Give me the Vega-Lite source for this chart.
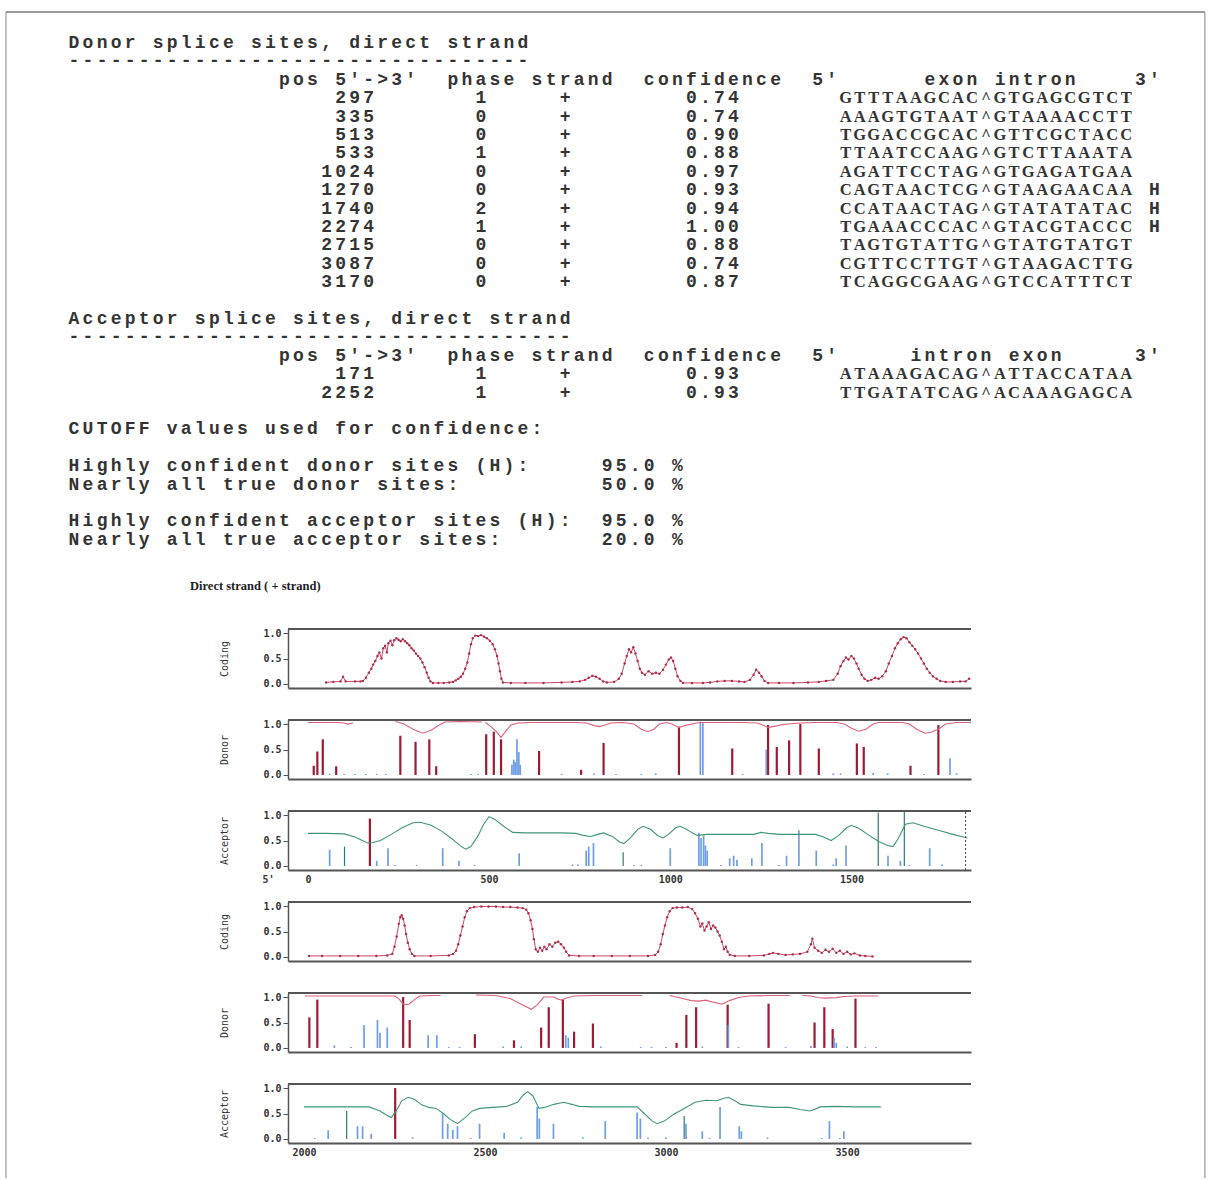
{
"$schema": "https://vega.github.io/schema/vega-lite/v6.json",
"background": "white",
"padding": {"left": 5, "top": 0, "right": 0, "bottom": 0},
"bounds": "flush",
"spacing": 32,
"config": {
  "view": {"stroke": null},
  "axis": {"grid": false, "domainColor": "#555", "tickColor": "#555", "labelFont": "DejaVu Sans Mono", "labelFontSize": 10, "labelFontWeight": "bold", "labelColor": "#333", "titleFont": "DejaVu Sans Mono", "titleFontSize": 10, "titleFontWeight": "normal", "titleColor": "#333"},
  "axisY": {"values": [0, 0.5, 1], "format": ".1f", "tickSize": 5, "labelPadding": 2, "titlePadding": 33, "domainWidth": 1.5},
  "axisX": {"domainWidth": 2, "ticks": false, "labelPadding": 4}
},
"datasets": {
  "report": [
    {"l":0,"c":0,"t":"D"},{"l":0,"c":1,"t":"o"},{"l":0,"c":2,"t":"n"},{"l":0,"c":3,"t":"o"},{"l":0,"c":4,"t":"r"},{"l":0,"c":6,"t":"s"},{"l":0,"c":7,"t":"p"},{"l":0,"c":8,"t":"l"},{"l":0,"c":9,"t":"i"},{"l":0,"c":10,"t":"c"},{"l":0,"c":11,"t":"e"},{"l":0,"c":13,"t":"s"},{"l":0,"c":14,"t":"i"},{"l":0,"c":15,"t":"t"},{"l":0,"c":16,"t":"e"},{"l":0,"c":17,"t":"s"},{"l":0,"c":18,"t":","},{"l":0,"c":20,"t":"d"},{"l":0,"c":21,"t":"i"},{"l":0,"c":22,"t":"r"},{"l":0,"c":23,"t":"e"},{"l":0,"c":24,"t":"c"},{"l":0,"c":25,"t":"t"},{"l":0,"c":27,"t":"s"},{"l":0,"c":28,"t":"t"},{"l":0,"c":29,"t":"r"},{"l":0,"c":30,"t":"a"},{"l":0,"c":31,"t":"n"},{"l":0,"c":32,"t":"d"},
    {"l":1,"c":0,"t":"-"},{"l":1,"c":1,"t":"-"},{"l":1,"c":2,"t":"-"},{"l":1,"c":3,"t":"-"},{"l":1,"c":4,"t":"-"},{"l":1,"c":5,"t":"-"},{"l":1,"c":6,"t":"-"},{"l":1,"c":7,"t":"-"},{"l":1,"c":8,"t":"-"},{"l":1,"c":9,"t":"-"},{"l":1,"c":10,"t":"-"},{"l":1,"c":11,"t":"-"},{"l":1,"c":12,"t":"-"},{"l":1,"c":13,"t":"-"},{"l":1,"c":14,"t":"-"},{"l":1,"c":15,"t":"-"},{"l":1,"c":16,"t":"-"},{"l":1,"c":17,"t":"-"},{"l":1,"c":18,"t":"-"},{"l":1,"c":19,"t":"-"},{"l":1,"c":20,"t":"-"},{"l":1,"c":21,"t":"-"},{"l":1,"c":22,"t":"-"},{"l":1,"c":23,"t":"-"},{"l":1,"c":24,"t":"-"},{"l":1,"c":25,"t":"-"},{"l":1,"c":26,"t":"-"},{"l":1,"c":27,"t":"-"},{"l":1,"c":28,"t":"-"},{"l":1,"c":29,"t":"-"},{"l":1,"c":30,"t":"-"},{"l":1,"c":31,"t":"-"},{"l":1,"c":32,"t":"-"},
    {"l":2,"c":15,"t":"p"},{"l":2,"c":16,"t":"o"},{"l":2,"c":17,"t":"s"},{"l":2,"c":19,"t":"5"},{"l":2,"c":20,"t":"'"},{"l":2,"c":21,"t":"-"},{"l":2,"c":22,"t":">"},{"l":2,"c":23,"t":"3"},{"l":2,"c":24,"t":"'"},{"l":2,"c":27,"t":"p"},{"l":2,"c":28,"t":"h"},{"l":2,"c":29,"t":"a"},{"l":2,"c":30,"t":"s"},{"l":2,"c":31,"t":"e"},{"l":2,"c":33,"t":"s"},{"l":2,"c":34,"t":"t"},{"l":2,"c":35,"t":"r"},{"l":2,"c":36,"t":"a"},{"l":2,"c":37,"t":"n"},{"l":2,"c":38,"t":"d"},{"l":2,"c":41,"t":"c"},{"l":2,"c":42,"t":"o"},{"l":2,"c":43,"t":"n"},{"l":2,"c":44,"t":"f"},{"l":2,"c":45,"t":"i"},{"l":2,"c":46,"t":"d"},{"l":2,"c":47,"t":"e"},{"l":2,"c":48,"t":"n"},{"l":2,"c":49,"t":"c"},{"l":2,"c":50,"t":"e"},{"l":2,"c":53,"t":"5"},{"l":2,"c":54,"t":"'"},{"l":2,"c":61,"t":"e"},{"l":2,"c":62,"t":"x"},{"l":2,"c":63,"t":"o"},{"l":2,"c":64,"t":"n"},{"l":2,"c":66,"t":"i"},{"l":2,"c":67,"t":"n"},{"l":2,"c":68,"t":"t"},{"l":2,"c":69,"t":"r"},{"l":2,"c":70,"t":"o"},{"l":2,"c":71,"t":"n"},{"l":2,"c":76,"t":"3"},{"l":2,"c":77,"t":"'"},
    {"l":3,"c":19,"t":"2"},{"l":3,"c":20,"t":"9"},{"l":3,"c":21,"t":"7"},{"l":3,"c":29,"t":"1"},{"l":3,"c":35,"t":"+"},{"l":3,"c":44,"t":"0"},{"l":3,"c":45,"t":"."},{"l":3,"c":46,"t":"7"},{"l":3,"c":47,"t":"4"},
    {"l":4,"c":19,"t":"3"},{"l":4,"c":20,"t":"3"},{"l":4,"c":21,"t":"5"},{"l":4,"c":29,"t":"0"},{"l":4,"c":35,"t":"+"},{"l":4,"c":44,"t":"0"},{"l":4,"c":45,"t":"."},{"l":4,"c":46,"t":"7"},{"l":4,"c":47,"t":"4"},
    {"l":5,"c":19,"t":"5"},{"l":5,"c":20,"t":"1"},{"l":5,"c":21,"t":"3"},{"l":5,"c":29,"t":"0"},{"l":5,"c":35,"t":"+"},{"l":5,"c":44,"t":"0"},{"l":5,"c":45,"t":"."},{"l":5,"c":46,"t":"9"},{"l":5,"c":47,"t":"0"},
    {"l":6,"c":19,"t":"5"},{"l":6,"c":20,"t":"3"},{"l":6,"c":21,"t":"3"},{"l":6,"c":29,"t":"1"},{"l":6,"c":35,"t":"+"},{"l":6,"c":44,"t":"0"},{"l":6,"c":45,"t":"."},{"l":6,"c":46,"t":"8"},{"l":6,"c":47,"t":"8"},
    {"l":7,"c":18,"t":"1"},{"l":7,"c":19,"t":"0"},{"l":7,"c":20,"t":"2"},{"l":7,"c":21,"t":"4"},{"l":7,"c":29,"t":"0"},{"l":7,"c":35,"t":"+"},{"l":7,"c":44,"t":"0"},{"l":7,"c":45,"t":"."},{"l":7,"c":46,"t":"9"},{"l":7,"c":47,"t":"7"},
    {"l":8,"c":18,"t":"1"},{"l":8,"c":19,"t":"2"},{"l":8,"c":20,"t":"7"},{"l":8,"c":21,"t":"0"},{"l":8,"c":29,"t":"0"},{"l":8,"c":35,"t":"+"},{"l":8,"c":44,"t":"0"},{"l":8,"c":45,"t":"."},{"l":8,"c":46,"t":"9"},{"l":8,"c":47,"t":"3"},{"l":8,"c":77,"t":"H"},
    {"l":9,"c":18,"t":"1"},{"l":9,"c":19,"t":"7"},{"l":9,"c":20,"t":"4"},{"l":9,"c":21,"t":"0"},{"l":9,"c":29,"t":"2"},{"l":9,"c":35,"t":"+"},{"l":9,"c":44,"t":"0"},{"l":9,"c":45,"t":"."},{"l":9,"c":46,"t":"9"},{"l":9,"c":47,"t":"4"},{"l":9,"c":77,"t":"H"},
    {"l":10,"c":18,"t":"2"},{"l":10,"c":19,"t":"2"},{"l":10,"c":20,"t":"7"},{"l":10,"c":21,"t":"4"},{"l":10,"c":29,"t":"1"},{"l":10,"c":35,"t":"+"},{"l":10,"c":44,"t":"1"},{"l":10,"c":45,"t":"."},{"l":10,"c":46,"t":"0"},{"l":10,"c":47,"t":"0"},{"l":10,"c":77,"t":"H"},
    {"l":11,"c":18,"t":"2"},{"l":11,"c":19,"t":"7"},{"l":11,"c":20,"t":"1"},{"l":11,"c":21,"t":"5"},{"l":11,"c":29,"t":"0"},{"l":11,"c":35,"t":"+"},{"l":11,"c":44,"t":"0"},{"l":11,"c":45,"t":"."},{"l":11,"c":46,"t":"8"},{"l":11,"c":47,"t":"8"},
    {"l":12,"c":18,"t":"3"},{"l":12,"c":19,"t":"0"},{"l":12,"c":20,"t":"8"},{"l":12,"c":21,"t":"7"},{"l":12,"c":29,"t":"0"},{"l":12,"c":35,"t":"+"},{"l":12,"c":44,"t":"0"},{"l":12,"c":45,"t":"."},{"l":12,"c":46,"t":"7"},{"l":12,"c":47,"t":"4"},
    {"l":13,"c":18,"t":"3"},{"l":13,"c":19,"t":"1"},{"l":13,"c":20,"t":"7"},{"l":13,"c":21,"t":"0"},{"l":13,"c":29,"t":"0"},{"l":13,"c":35,"t":"+"},{"l":13,"c":44,"t":"0"},{"l":13,"c":45,"t":"."},{"l":13,"c":46,"t":"8"},{"l":13,"c":47,"t":"7"},
    {"l":15,"c":0,"t":"A"},{"l":15,"c":1,"t":"c"},{"l":15,"c":2,"t":"c"},{"l":15,"c":3,"t":"e"},{"l":15,"c":4,"t":"p"},{"l":15,"c":5,"t":"t"},{"l":15,"c":6,"t":"o"},{"l":15,"c":7,"t":"r"},{"l":15,"c":9,"t":"s"},{"l":15,"c":10,"t":"p"},{"l":15,"c":11,"t":"l"},{"l":15,"c":12,"t":"i"},{"l":15,"c":13,"t":"c"},{"l":15,"c":14,"t":"e"},{"l":15,"c":16,"t":"s"},{"l":15,"c":17,"t":"i"},{"l":15,"c":18,"t":"t"},{"l":15,"c":19,"t":"e"},{"l":15,"c":20,"t":"s"},{"l":15,"c":21,"t":","},{"l":15,"c":23,"t":"d"},{"l":15,"c":24,"t":"i"},{"l":15,"c":25,"t":"r"},{"l":15,"c":26,"t":"e"},{"l":15,"c":27,"t":"c"},{"l":15,"c":28,"t":"t"},{"l":15,"c":30,"t":"s"},{"l":15,"c":31,"t":"t"},{"l":15,"c":32,"t":"r"},{"l":15,"c":33,"t":"a"},{"l":15,"c":34,"t":"n"},{"l":15,"c":35,"t":"d"},
    {"l":16,"c":0,"t":"-"},{"l":16,"c":1,"t":"-"},{"l":16,"c":2,"t":"-"},{"l":16,"c":3,"t":"-"},{"l":16,"c":4,"t":"-"},{"l":16,"c":5,"t":"-"},{"l":16,"c":6,"t":"-"},{"l":16,"c":7,"t":"-"},{"l":16,"c":8,"t":"-"},{"l":16,"c":9,"t":"-"},{"l":16,"c":10,"t":"-"},{"l":16,"c":11,"t":"-"},{"l":16,"c":12,"t":"-"},{"l":16,"c":13,"t":"-"},{"l":16,"c":14,"t":"-"},{"l":16,"c":15,"t":"-"},{"l":16,"c":16,"t":"-"},{"l":16,"c":17,"t":"-"},{"l":16,"c":18,"t":"-"},{"l":16,"c":19,"t":"-"},{"l":16,"c":20,"t":"-"},{"l":16,"c":21,"t":"-"},{"l":16,"c":22,"t":"-"},{"l":16,"c":23,"t":"-"},{"l":16,"c":24,"t":"-"},{"l":16,"c":25,"t":"-"},{"l":16,"c":26,"t":"-"},{"l":16,"c":27,"t":"-"},{"l":16,"c":28,"t":"-"},{"l":16,"c":29,"t":"-"},{"l":16,"c":30,"t":"-"},{"l":16,"c":31,"t":"-"},{"l":16,"c":32,"t":"-"},{"l":16,"c":33,"t":"-"},{"l":16,"c":34,"t":"-"},{"l":16,"c":35,"t":"-"},
    {"l":17,"c":15,"t":"p"},{"l":17,"c":16,"t":"o"},{"l":17,"c":17,"t":"s"},{"l":17,"c":19,"t":"5"},{"l":17,"c":20,"t":"'"},{"l":17,"c":21,"t":"-"},{"l":17,"c":22,"t":">"},{"l":17,"c":23,"t":"3"},{"l":17,"c":24,"t":"'"},{"l":17,"c":27,"t":"p"},{"l":17,"c":28,"t":"h"},{"l":17,"c":29,"t":"a"},{"l":17,"c":30,"t":"s"},{"l":17,"c":31,"t":"e"},{"l":17,"c":33,"t":"s"},{"l":17,"c":34,"t":"t"},{"l":17,"c":35,"t":"r"},{"l":17,"c":36,"t":"a"},{"l":17,"c":37,"t":"n"},{"l":17,"c":38,"t":"d"},{"l":17,"c":41,"t":"c"},{"l":17,"c":42,"t":"o"},{"l":17,"c":43,"t":"n"},{"l":17,"c":44,"t":"f"},{"l":17,"c":45,"t":"i"},{"l":17,"c":46,"t":"d"},{"l":17,"c":47,"t":"e"},{"l":17,"c":48,"t":"n"},{"l":17,"c":49,"t":"c"},{"l":17,"c":50,"t":"e"},{"l":17,"c":53,"t":"5"},{"l":17,"c":54,"t":"'"},{"l":17,"c":60,"t":"i"},{"l":17,"c":61,"t":"n"},{"l":17,"c":62,"t":"t"},{"l":17,"c":63,"t":"r"},{"l":17,"c":64,"t":"o"},{"l":17,"c":65,"t":"n"},{"l":17,"c":67,"t":"e"},{"l":17,"c":68,"t":"x"},{"l":17,"c":69,"t":"o"},{"l":17,"c":70,"t":"n"},{"l":17,"c":76,"t":"3"},{"l":17,"c":77,"t":"'"},
    {"l":18,"c":19,"t":"1"},{"l":18,"c":20,"t":"7"},{"l":18,"c":21,"t":"1"},{"l":18,"c":29,"t":"1"},{"l":18,"c":35,"t":"+"},{"l":18,"c":44,"t":"0"},{"l":18,"c":45,"t":"."},{"l":18,"c":46,"t":"9"},{"l":18,"c":47,"t":"3"},
    {"l":19,"c":18,"t":"2"},{"l":19,"c":19,"t":"2"},{"l":19,"c":20,"t":"5"},{"l":19,"c":21,"t":"2"},{"l":19,"c":29,"t":"1"},{"l":19,"c":35,"t":"+"},{"l":19,"c":44,"t":"0"},{"l":19,"c":45,"t":"."},{"l":19,"c":46,"t":"9"},{"l":19,"c":47,"t":"3"},
    {"l":21,"c":0,"t":"C"},{"l":21,"c":1,"t":"U"},{"l":21,"c":2,"t":"T"},{"l":21,"c":3,"t":"O"},{"l":21,"c":4,"t":"F"},{"l":21,"c":5,"t":"F"},{"l":21,"c":7,"t":"v"},{"l":21,"c":8,"t":"a"},{"l":21,"c":9,"t":"l"},{"l":21,"c":10,"t":"u"},{"l":21,"c":11,"t":"e"},{"l":21,"c":12,"t":"s"},{"l":21,"c":14,"t":"u"},{"l":21,"c":15,"t":"s"},{"l":21,"c":16,"t":"e"},{"l":21,"c":17,"t":"d"},{"l":21,"c":19,"t":"f"},{"l":21,"c":20,"t":"o"},{"l":21,"c":21,"t":"r"},{"l":21,"c":23,"t":"c"},{"l":21,"c":24,"t":"o"},{"l":21,"c":25,"t":"n"},{"l":21,"c":26,"t":"f"},{"l":21,"c":27,"t":"i"},{"l":21,"c":28,"t":"d"},{"l":21,"c":29,"t":"e"},{"l":21,"c":30,"t":"n"},{"l":21,"c":31,"t":"c"},{"l":21,"c":32,"t":"e"},{"l":21,"c":33,"t":":"},
    {"l":23,"c":0,"t":"H"},{"l":23,"c":1,"t":"i"},{"l":23,"c":2,"t":"g"},{"l":23,"c":3,"t":"h"},{"l":23,"c":4,"t":"l"},{"l":23,"c":5,"t":"y"},{"l":23,"c":7,"t":"c"},{"l":23,"c":8,"t":"o"},{"l":23,"c":9,"t":"n"},{"l":23,"c":10,"t":"f"},{"l":23,"c":11,"t":"i"},{"l":23,"c":12,"t":"d"},{"l":23,"c":13,"t":"e"},{"l":23,"c":14,"t":"n"},{"l":23,"c":15,"t":"t"},{"l":23,"c":17,"t":"d"},{"l":23,"c":18,"t":"o"},{"l":23,"c":19,"t":"n"},{"l":23,"c":20,"t":"o"},{"l":23,"c":21,"t":"r"},{"l":23,"c":23,"t":"s"},{"l":23,"c":24,"t":"i"},{"l":23,"c":25,"t":"t"},{"l":23,"c":26,"t":"e"},{"l":23,"c":27,"t":"s"},{"l":23,"c":29,"t":"("},{"l":23,"c":30,"t":"H"},{"l":23,"c":31,"t":")"},{"l":23,"c":32,"t":":"},{"l":23,"c":38,"t":"9"},{"l":23,"c":39,"t":"5"},{"l":23,"c":40,"t":"."},{"l":23,"c":41,"t":"0"},{"l":23,"c":43,"t":"%"},
    {"l":24,"c":0,"t":"N"},{"l":24,"c":1,"t":"e"},{"l":24,"c":2,"t":"a"},{"l":24,"c":3,"t":"r"},{"l":24,"c":4,"t":"l"},{"l":24,"c":5,"t":"y"},{"l":24,"c":7,"t":"a"},{"l":24,"c":8,"t":"l"},{"l":24,"c":9,"t":"l"},{"l":24,"c":11,"t":"t"},{"l":24,"c":12,"t":"r"},{"l":24,"c":13,"t":"u"},{"l":24,"c":14,"t":"e"},{"l":24,"c":16,"t":"d"},{"l":24,"c":17,"t":"o"},{"l":24,"c":18,"t":"n"},{"l":24,"c":19,"t":"o"},{"l":24,"c":20,"t":"r"},{"l":24,"c":22,"t":"s"},{"l":24,"c":23,"t":"i"},{"l":24,"c":24,"t":"t"},{"l":24,"c":25,"t":"e"},{"l":24,"c":26,"t":"s"},{"l":24,"c":27,"t":":"},{"l":24,"c":38,"t":"5"},{"l":24,"c":39,"t":"0"},{"l":24,"c":40,"t":"."},{"l":24,"c":41,"t":"0"},{"l":24,"c":43,"t":"%"},
    {"l":26,"c":0,"t":"H"},{"l":26,"c":1,"t":"i"},{"l":26,"c":2,"t":"g"},{"l":26,"c":3,"t":"h"},{"l":26,"c":4,"t":"l"},{"l":26,"c":5,"t":"y"},{"l":26,"c":7,"t":"c"},{"l":26,"c":8,"t":"o"},{"l":26,"c":9,"t":"n"},{"l":26,"c":10,"t":"f"},{"l":26,"c":11,"t":"i"},{"l":26,"c":12,"t":"d"},{"l":26,"c":13,"t":"e"},{"l":26,"c":14,"t":"n"},{"l":26,"c":15,"t":"t"},{"l":26,"c":17,"t":"a"},{"l":26,"c":18,"t":"c"},{"l":26,"c":19,"t":"c"},{"l":26,"c":20,"t":"e"},{"l":26,"c":21,"t":"p"},{"l":26,"c":22,"t":"t"},{"l":26,"c":23,"t":"o"},{"l":26,"c":24,"t":"r"},{"l":26,"c":26,"t":"s"},{"l":26,"c":27,"t":"i"},{"l":26,"c":28,"t":"t"},{"l":26,"c":29,"t":"e"},{"l":26,"c":30,"t":"s"},{"l":26,"c":32,"t":"("},{"l":26,"c":33,"t":"H"},{"l":26,"c":34,"t":")"},{"l":26,"c":35,"t":":"},{"l":26,"c":38,"t":"9"},{"l":26,"c":39,"t":"5"},{"l":26,"c":40,"t":"."},{"l":26,"c":41,"t":"0"},{"l":26,"c":43,"t":"%"},
    {"l":27,"c":0,"t":"N"},{"l":27,"c":1,"t":"e"},{"l":27,"c":2,"t":"a"},{"l":27,"c":3,"t":"r"},{"l":27,"c":4,"t":"l"},{"l":27,"c":5,"t":"y"},{"l":27,"c":7,"t":"a"},{"l":27,"c":8,"t":"l"},{"l":27,"c":9,"t":"l"},{"l":27,"c":11,"t":"t"},{"l":27,"c":12,"t":"r"},{"l":27,"c":13,"t":"u"},{"l":27,"c":14,"t":"e"},{"l":27,"c":16,"t":"a"},{"l":27,"c":17,"t":"c"},{"l":27,"c":18,"t":"c"},{"l":27,"c":19,"t":"e"},{"l":27,"c":20,"t":"p"},{"l":27,"c":21,"t":"t"},{"l":27,"c":22,"t":"o"},{"l":27,"c":23,"t":"r"},{"l":27,"c":25,"t":"s"},{"l":27,"c":26,"t":"i"},{"l":27,"c":27,"t":"t"},{"l":27,"c":28,"t":"e"},{"l":27,"c":29,"t":"s"},{"l":27,"c":30,"t":":"},{"l":27,"c":38,"t":"2"},{"l":27,"c":39,"t":"0"},{"l":27,"c":40,"t":"."},{"l":27,"c":41,"t":"0"},{"l":27,"c":43,"t":"%"}
  ],
  "seqs": [
    {"l":3,"c":55,"t":"G"},{"l":3,"c":56,"t":"T"},{"l":3,"c":57,"t":"T"},{"l":3,"c":58,"t":"T"},{"l":3,"c":59,"t":"A"},{"l":3,"c":60,"t":"A"},{"l":3,"c":61,"t":"G"},{"l":3,"c":62,"t":"C"},{"l":3,"c":63,"t":"A"},{"l":3,"c":64,"t":"C"},{"l":3,"c":65,"t":"^"},{"l":3,"c":66,"t":"G"},{"l":3,"c":67,"t":"T"},{"l":3,"c":68,"t":"G"},{"l":3,"c":69,"t":"A"},{"l":3,"c":70,"t":"G"},{"l":3,"c":71,"t":"C"},{"l":3,"c":72,"t":"G"},{"l":3,"c":73,"t":"T"},{"l":3,"c":74,"t":"C"},{"l":3,"c":75,"t":"T"},
    {"l":4,"c":55,"t":"A"},{"l":4,"c":56,"t":"A"},{"l":4,"c":57,"t":"A"},{"l":4,"c":58,"t":"G"},{"l":4,"c":59,"t":"T"},{"l":4,"c":60,"t":"G"},{"l":4,"c":61,"t":"T"},{"l":4,"c":62,"t":"A"},{"l":4,"c":63,"t":"A"},{"l":4,"c":64,"t":"T"},{"l":4,"c":65,"t":"^"},{"l":4,"c":66,"t":"G"},{"l":4,"c":67,"t":"T"},{"l":4,"c":68,"t":"A"},{"l":4,"c":69,"t":"A"},{"l":4,"c":70,"t":"A"},{"l":4,"c":71,"t":"A"},{"l":4,"c":72,"t":"C"},{"l":4,"c":73,"t":"C"},{"l":4,"c":74,"t":"T"},{"l":4,"c":75,"t":"T"},
    {"l":5,"c":55,"t":"T"},{"l":5,"c":56,"t":"G"},{"l":5,"c":57,"t":"G"},{"l":5,"c":58,"t":"A"},{"l":5,"c":59,"t":"C"},{"l":5,"c":60,"t":"C"},{"l":5,"c":61,"t":"G"},{"l":5,"c":62,"t":"C"},{"l":5,"c":63,"t":"A"},{"l":5,"c":64,"t":"C"},{"l":5,"c":65,"t":"^"},{"l":5,"c":66,"t":"G"},{"l":5,"c":67,"t":"T"},{"l":5,"c":68,"t":"T"},{"l":5,"c":69,"t":"C"},{"l":5,"c":70,"t":"G"},{"l":5,"c":71,"t":"C"},{"l":5,"c":72,"t":"T"},{"l":5,"c":73,"t":"A"},{"l":5,"c":74,"t":"C"},{"l":5,"c":75,"t":"C"},
    {"l":6,"c":55,"t":"T"},{"l":6,"c":56,"t":"T"},{"l":6,"c":57,"t":"A"},{"l":6,"c":58,"t":"A"},{"l":6,"c":59,"t":"T"},{"l":6,"c":60,"t":"C"},{"l":6,"c":61,"t":"C"},{"l":6,"c":62,"t":"A"},{"l":6,"c":63,"t":"A"},{"l":6,"c":64,"t":"G"},{"l":6,"c":65,"t":"^"},{"l":6,"c":66,"t":"G"},{"l":6,"c":67,"t":"T"},{"l":6,"c":68,"t":"C"},{"l":6,"c":69,"t":"T"},{"l":6,"c":70,"t":"T"},{"l":6,"c":71,"t":"A"},{"l":6,"c":72,"t":"A"},{"l":6,"c":73,"t":"A"},{"l":6,"c":74,"t":"T"},{"l":6,"c":75,"t":"A"},
    {"l":7,"c":55,"t":"A"},{"l":7,"c":56,"t":"G"},{"l":7,"c":57,"t":"A"},{"l":7,"c":58,"t":"T"},{"l":7,"c":59,"t":"T"},{"l":7,"c":60,"t":"C"},{"l":7,"c":61,"t":"C"},{"l":7,"c":62,"t":"T"},{"l":7,"c":63,"t":"A"},{"l":7,"c":64,"t":"G"},{"l":7,"c":65,"t":"^"},{"l":7,"c":66,"t":"G"},{"l":7,"c":67,"t":"T"},{"l":7,"c":68,"t":"G"},{"l":7,"c":69,"t":"A"},{"l":7,"c":70,"t":"G"},{"l":7,"c":71,"t":"A"},{"l":7,"c":72,"t":"T"},{"l":7,"c":73,"t":"G"},{"l":7,"c":74,"t":"A"},{"l":7,"c":75,"t":"A"},
    {"l":8,"c":55,"t":"C"},{"l":8,"c":56,"t":"A"},{"l":8,"c":57,"t":"G"},{"l":8,"c":58,"t":"T"},{"l":8,"c":59,"t":"A"},{"l":8,"c":60,"t":"A"},{"l":8,"c":61,"t":"C"},{"l":8,"c":62,"t":"T"},{"l":8,"c":63,"t":"C"},{"l":8,"c":64,"t":"G"},{"l":8,"c":65,"t":"^"},{"l":8,"c":66,"t":"G"},{"l":8,"c":67,"t":"T"},{"l":8,"c":68,"t":"A"},{"l":8,"c":69,"t":"A"},{"l":8,"c":70,"t":"G"},{"l":8,"c":71,"t":"A"},{"l":8,"c":72,"t":"A"},{"l":8,"c":73,"t":"C"},{"l":8,"c":74,"t":"A"},{"l":8,"c":75,"t":"A"},
    {"l":9,"c":55,"t":"C"},{"l":9,"c":56,"t":"C"},{"l":9,"c":57,"t":"A"},{"l":9,"c":58,"t":"T"},{"l":9,"c":59,"t":"A"},{"l":9,"c":60,"t":"A"},{"l":9,"c":61,"t":"C"},{"l":9,"c":62,"t":"T"},{"l":9,"c":63,"t":"A"},{"l":9,"c":64,"t":"G"},{"l":9,"c":65,"t":"^"},{"l":9,"c":66,"t":"G"},{"l":9,"c":67,"t":"T"},{"l":9,"c":68,"t":"A"},{"l":9,"c":69,"t":"T"},{"l":9,"c":70,"t":"A"},{"l":9,"c":71,"t":"T"},{"l":9,"c":72,"t":"A"},{"l":9,"c":73,"t":"T"},{"l":9,"c":74,"t":"A"},{"l":9,"c":75,"t":"C"},
    {"l":10,"c":55,"t":"T"},{"l":10,"c":56,"t":"G"},{"l":10,"c":57,"t":"A"},{"l":10,"c":58,"t":"A"},{"l":10,"c":59,"t":"A"},{"l":10,"c":60,"t":"C"},{"l":10,"c":61,"t":"C"},{"l":10,"c":62,"t":"C"},{"l":10,"c":63,"t":"A"},{"l":10,"c":64,"t":"C"},{"l":10,"c":65,"t":"^"},{"l":10,"c":66,"t":"G"},{"l":10,"c":67,"t":"T"},{"l":10,"c":68,"t":"A"},{"l":10,"c":69,"t":"C"},{"l":10,"c":70,"t":"G"},{"l":10,"c":71,"t":"T"},{"l":10,"c":72,"t":"A"},{"l":10,"c":73,"t":"C"},{"l":10,"c":74,"t":"C"},{"l":10,"c":75,"t":"C"},
    {"l":11,"c":55,"t":"T"},{"l":11,"c":56,"t":"A"},{"l":11,"c":57,"t":"G"},{"l":11,"c":58,"t":"T"},{"l":11,"c":59,"t":"G"},{"l":11,"c":60,"t":"T"},{"l":11,"c":61,"t":"A"},{"l":11,"c":62,"t":"T"},{"l":11,"c":63,"t":"T"},{"l":11,"c":64,"t":"G"},{"l":11,"c":65,"t":"^"},{"l":11,"c":66,"t":"G"},{"l":11,"c":67,"t":"T"},{"l":11,"c":68,"t":"A"},{"l":11,"c":69,"t":"T"},{"l":11,"c":70,"t":"G"},{"l":11,"c":71,"t":"T"},{"l":11,"c":72,"t":"A"},{"l":11,"c":73,"t":"T"},{"l":11,"c":74,"t":"G"},{"l":11,"c":75,"t":"T"},
    {"l":12,"c":55,"t":"C"},{"l":12,"c":56,"t":"G"},{"l":12,"c":57,"t":"T"},{"l":12,"c":58,"t":"T"},{"l":12,"c":59,"t":"C"},{"l":12,"c":60,"t":"C"},{"l":12,"c":61,"t":"T"},{"l":12,"c":62,"t":"T"},{"l":12,"c":63,"t":"G"},{"l":12,"c":64,"t":"T"},{"l":12,"c":65,"t":"^"},{"l":12,"c":66,"t":"G"},{"l":12,"c":67,"t":"T"},{"l":12,"c":68,"t":"A"},{"l":12,"c":69,"t":"A"},{"l":12,"c":70,"t":"G"},{"l":12,"c":71,"t":"A"},{"l":12,"c":72,"t":"C"},{"l":12,"c":73,"t":"T"},{"l":12,"c":74,"t":"T"},{"l":12,"c":75,"t":"G"},
    {"l":13,"c":55,"t":"T"},{"l":13,"c":56,"t":"C"},{"l":13,"c":57,"t":"A"},{"l":13,"c":58,"t":"G"},{"l":13,"c":59,"t":"G"},{"l":13,"c":60,"t":"C"},{"l":13,"c":61,"t":"G"},{"l":13,"c":62,"t":"A"},{"l":13,"c":63,"t":"A"},{"l":13,"c":64,"t":"G"},{"l":13,"c":65,"t":"^"},{"l":13,"c":66,"t":"G"},{"l":13,"c":67,"t":"T"},{"l":13,"c":68,"t":"C"},{"l":13,"c":69,"t":"C"},{"l":13,"c":70,"t":"A"},{"l":13,"c":71,"t":"T"},{"l":13,"c":72,"t":"T"},{"l":13,"c":73,"t":"T"},{"l":13,"c":74,"t":"C"},{"l":13,"c":75,"t":"T"},
    {"l":18,"c":55,"t":"A"},{"l":18,"c":56,"t":"T"},{"l":18,"c":57,"t":"A"},{"l":18,"c":58,"t":"A"},{"l":18,"c":59,"t":"A"},{"l":18,"c":60,"t":"G"},{"l":18,"c":61,"t":"A"},{"l":18,"c":62,"t":"C"},{"l":18,"c":63,"t":"A"},{"l":18,"c":64,"t":"G"},{"l":18,"c":65,"t":"^"},{"l":18,"c":66,"t":"A"},{"l":18,"c":67,"t":"T"},{"l":18,"c":68,"t":"T"},{"l":18,"c":69,"t":"A"},{"l":18,"c":70,"t":"C"},{"l":18,"c":71,"t":"C"},{"l":18,"c":72,"t":"A"},{"l":18,"c":73,"t":"T"},{"l":18,"c":74,"t":"A"},{"l":18,"c":75,"t":"A"},
    {"l":19,"c":55,"t":"T"},{"l":19,"c":56,"t":"T"},{"l":19,"c":57,"t":"G"},{"l":19,"c":58,"t":"A"},{"l":19,"c":59,"t":"T"},{"l":19,"c":60,"t":"A"},{"l":19,"c":61,"t":"T"},{"l":19,"c":62,"t":"C"},{"l":19,"c":63,"t":"A"},{"l":19,"c":64,"t":"G"},{"l":19,"c":65,"t":"^"},{"l":19,"c":66,"t":"A"},{"l":19,"c":67,"t":"C"},{"l":19,"c":68,"t":"A"},{"l":19,"c":69,"t":"A"},{"l":19,"c":70,"t":"A"},{"l":19,"c":71,"t":"G"},{"l":19,"c":72,"t":"A"},{"l":19,"c":73,"t":"G"},{"l":19,"c":74,"t":"C"},{"l":19,"c":75,"t":"A"}
  ],
  "coding": [
    {"half":1,"pos":50,"score":0.03},{"half":1,"pos":70,"score":0.04},{"half":1,"pos":90,"score":0.05},{"half":1,"pos":97,"score":0.14},{"half":1,"pos":104,"score":0.05},{"half":1,"pos":130,"score":0.05},{"half":1,"pos":145,"score":0.05},{"half":1,"pos":152,"score":0.06},{"half":1,"pos":160,"score":0.12},{"half":1,"pos":168,"score":0.22},{"half":1,"pos":175,"score":0.3},{"half":1,"pos":180,"score":0.38},{"half":1,"pos":186,"score":0.45},{"half":1,"pos":192,"score":0.55},{"half":1,"pos":197,"score":0.62},{"half":1,"pos":203,"score":0.5},{"half":1,"pos":208,"score":0.7},{"half":1,"pos":213,"score":0.75},{"half":1,"pos":218,"score":0.62},{"half":1,"pos":222,"score":0.8},{"half":1,"pos":228,"score":0.85},{"half":1,"pos":233,"score":0.76},{"half":1,"pos":238,"score":0.86},{"half":1,"pos":244,"score":0.9},{"half":1,"pos":250,"score":0.87},{"half":1,"pos":256,"score":0.84},{"half":1,"pos":262,"score":0.88},{"half":1,"pos":268,"score":0.84},{"half":1,"pos":274,"score":0.8},{"half":1,"pos":280,"score":0.76},{"half":1,"pos":286,"score":0.7},{"half":1,"pos":292,"score":0.66},{"half":1,"pos":298,"score":0.6},{"half":1,"pos":304,"score":0.55},{"half":1,"pos":310,"score":0.5},{"half":1,"pos":316,"score":0.42},{"half":1,"pos":322,"score":0.33},{"half":1,"pos":328,"score":0.22},{"half":1,"pos":333,"score":0.12},{"half":1,"pos":338,"score":0.05},{"half":1,"pos":345,"score":0.02},{"half":1,"pos":360,"score":0.02},{"half":1,"pos":375,"score":0.02},{"half":1,"pos":390,"score":0.03},{"half":1,"pos":400,"score":0.04},{"half":1,"pos":408,"score":0.07},{"half":1,"pos":415,"score":0.1},{"half":1,"pos":422,"score":0.14},{"half":1,"pos":428,"score":0.2},{"half":1,"pos":434,"score":0.3},{"half":1,"pos":440,"score":0.42},{"half":1,"pos":445,"score":0.6},{"half":1,"pos":450,"score":0.78},{"half":1,"pos":455,"score":0.9},{"half":1,"pos":462,"score":0.95},{"half":1,"pos":470,"score":0.94},{"half":1,"pos":478,"score":0.96},{"half":1,"pos":486,"score":0.93},{"half":1,"pos":494,"score":0.9},{"half":1,"pos":502,"score":0.85},{"half":1,"pos":510,"score":0.78},{"half":1,"pos":516,"score":0.68},{"half":1,"pos":522,"score":0.55},{"half":1,"pos":526,"score":0.4},{"half":1,"pos":530,"score":0.25},{"half":1,"pos":534,"score":0.1},{"half":1,"pos":538,"score":0.03},{"half":1,"pos":560,"score":0.02},{"half":1,"pos":600,"score":0.02},{"half":1,"pos":650,"score":0.02},{"half":1,"pos":700,"score":0.03},{"half":1,"pos":730,"score":0.04},{"half":1,"pos":750,"score":0.05},{"half":1,"pos":765,"score":0.08},{"half":1,"pos":775,"score":0.12},{"half":1,"pos":785,"score":0.16},{"half":1,"pos":795,"score":0.14},{"half":1,"pos":805,"score":0.1},{"half":1,"pos":815,"score":0.05},{"half":1,"pos":825,"score":0.03},{"half":1,"pos":845,"score":0.04},{"half":1,"pos":858,"score":0.1},{"half":1,"pos":866,"score":0.2},{"half":1,"pos":874,"score":0.4},{"half":1,"pos":880,"score":0.55},{"half":1,"pos":886,"score":0.68},{"half":1,"pos":892,"score":0.62},{"half":1,"pos":898,"score":0.72},{"half":1,"pos":904,"score":0.6},{"half":1,"pos":910,"score":0.45},{"half":1,"pos":916,"score":0.3},{"half":1,"pos":922,"score":0.22},{"half":1,"pos":930,"score":0.18},{"half":1,"pos":940,"score":0.25},{"half":1,"pos":950,"score":0.2},{"half":1,"pos":960,"score":0.22},{"half":1,"pos":970,"score":0.2},{"half":1,"pos":980,"score":0.28},{"half":1,"pos":988,"score":0.38},{"half":1,"pos":996,"score":0.48},{"half":1,"pos":1002,"score":0.52},{"half":1,"pos":1008,"score":0.45},{"half":1,"pos":1014,"score":0.3},{"half":1,"pos":1020,"score":0.15},{"half":1,"pos":1028,"score":0.06},{"half":1,"pos":1035,"score":0.02},{"half":1,"pos":1060,"score":0.02},{"half":1,"pos":1090,"score":0.02},{"half":1,"pos":1110,"score":0.03},{"half":1,"pos":1130,"score":0.05},{"half":1,"pos":1150,"score":0.06},{"half":1,"pos":1170,"score":0.06},{"half":1,"pos":1190,"score":0.05},{"half":1,"pos":1205,"score":0.04},{"half":1,"pos":1220,"score":0.08},{"half":1,"pos":1230,"score":0.18},{"half":1,"pos":1237,"score":0.28},{"half":1,"pos":1245,"score":0.22},{"half":1,"pos":1252,"score":0.15},{"half":1,"pos":1260,"score":0.06},{"half":1,"pos":1270,"score":0.02},{"half":1,"pos":1300,"score":0.02},{"half":1,"pos":1340,"score":0.02},{"half":1,"pos":1380,"score":0.03},{"half":1,"pos":1410,"score":0.04},{"half":1,"pos":1430,"score":0.06},{"half":1,"pos":1450,"score":0.08},{"half":1,"pos":1462,"score":0.2},{"half":1,"pos":1470,"score":0.35},{"half":1,"pos":1478,"score":0.45},{"half":1,"pos":1485,"score":0.52},{"half":1,"pos":1492,"score":0.48},{"half":1,"pos":1500,"score":0.55},{"half":1,"pos":1507,"score":0.5},{"half":1,"pos":1514,"score":0.4},{"half":1,"pos":1520,"score":0.3},{"half":1,"pos":1528,"score":0.18},{"half":1,"pos":1536,"score":0.1},{"half":1,"pos":1545,"score":0.06},{"half":1,"pos":1555,"score":0.08},{"half":1,"pos":1565,"score":0.12},{"half":1,"pos":1575,"score":0.1},{"half":1,"pos":1585,"score":0.15},{"half":1,"pos":1595,"score":0.25},{"half":1,"pos":1603,"score":0.4},{"half":1,"pos":1612,"score":0.55},{"half":1,"pos":1620,"score":0.7},{"half":1,"pos":1628,"score":0.8},{"half":1,"pos":1636,"score":0.88},{"half":1,"pos":1644,"score":0.92},{"half":1,"pos":1652,"score":0.9},{"half":1,"pos":1660,"score":0.82},{"half":1,"pos":1668,"score":0.75},{"half":1,"pos":1676,"score":0.68},{"half":1,"pos":1684,"score":0.6},{"half":1,"pos":1692,"score":0.5},{"half":1,"pos":1700,"score":0.4},{"half":1,"pos":1708,"score":0.3},{"half":1,"pos":1716,"score":0.22},{"half":1,"pos":1725,"score":0.15},{"half":1,"pos":1735,"score":0.1},{"half":1,"pos":1745,"score":0.06},{"half":1,"pos":1760,"score":0.04},{"half":1,"pos":1780,"score":0.04},{"half":1,"pos":1800,"score":0.05},{"half":1,"pos":1815,"score":0.05},{"half":1,"pos":1825,"score":0.1},
    {"half":2,"pos":2014,"score":0.02},{"half":2,"pos":2050,"score":0.02},{"half":2,"pos":2100,"score":0.02},{"half":2,"pos":2150,"score":0.02},{"half":2,"pos":2200,"score":0.02},{"half":2,"pos":2230,"score":0.03},{"half":2,"pos":2244,"score":0.06},{"half":2,"pos":2250,"score":0.2},{"half":2,"pos":2256,"score":0.4},{"half":2,"pos":2262,"score":0.65},{"half":2,"pos":2266,"score":0.78},{"half":2,"pos":2270,"score":0.82},{"half":2,"pos":2274,"score":0.75},{"half":2,"pos":2278,"score":0.62},{"half":2,"pos":2282,"score":0.45},{"half":2,"pos":2287,"score":0.28},{"half":2,"pos":2292,"score":0.15},{"half":2,"pos":2298,"score":0.06},{"half":2,"pos":2305,"score":0.02},{"half":2,"pos":2350,"score":0.02},{"half":2,"pos":2400,"score":0.03},{"half":2,"pos":2412,"score":0.06},{"half":2,"pos":2420,"score":0.12},{"half":2,"pos":2426,"score":0.25},{"half":2,"pos":2432,"score":0.42},{"half":2,"pos":2438,"score":0.6},{"half":2,"pos":2444,"score":0.78},{"half":2,"pos":2450,"score":0.9},{"half":2,"pos":2458,"score":0.96},{"half":2,"pos":2470,"score":0.98},{"half":2,"pos":2490,"score":0.99},{"half":2,"pos":2510,"score":0.99},{"half":2,"pos":2530,"score":0.99},{"half":2,"pos":2550,"score":0.98},{"half":2,"pos":2570,"score":0.98},{"half":2,"pos":2590,"score":0.97},{"half":2,"pos":2604,"score":0.96},{"half":2,"pos":2614,"score":0.93},{"half":2,"pos":2620,"score":0.86},{"half":2,"pos":2626,"score":0.72},{"half":2,"pos":2631,"score":0.55},{"half":2,"pos":2635,"score":0.35},{"half":2,"pos":2640,"score":0.15},{"half":2,"pos":2646,"score":0.1},{"half":2,"pos":2652,"score":0.18},{"half":2,"pos":2658,"score":0.12},{"half":2,"pos":2664,"score":0.2},{"half":2,"pos":2670,"score":0.15},{"half":2,"pos":2678,"score":0.25},{"half":2,"pos":2686,"score":0.2},{"half":2,"pos":2694,"score":0.28},{"half":2,"pos":2702,"score":0.3},{"half":2,"pos":2710,"score":0.25},{"half":2,"pos":2718,"score":0.18},{"half":2,"pos":2724,"score":0.1},{"half":2,"pos":2732,"score":0.03},{"half":2,"pos":2760,"score":0.02},{"half":2,"pos":2800,"score":0.02},{"half":2,"pos":2850,"score":0.02},{"half":2,"pos":2900,"score":0.02},{"half":2,"pos":2950,"score":0.02},{"half":2,"pos":2970,"score":0.04},{"half":2,"pos":2978,"score":0.1},{"half":2,"pos":2985,"score":0.25},{"half":2,"pos":2991,"score":0.45},{"half":2,"pos":2997,"score":0.62},{"half":2,"pos":3003,"score":0.78},{"half":2,"pos":3010,"score":0.9},{"half":2,"pos":3018,"score":0.96},{"half":2,"pos":3030,"score":0.97},{"half":2,"pos":3045,"score":0.97},{"half":2,"pos":3060,"score":0.98},{"half":2,"pos":3072,"score":0.94},{"half":2,"pos":3080,"score":0.86},{"half":2,"pos":3088,"score":0.75},{"half":2,"pos":3095,"score":0.6},{"half":2,"pos":3100,"score":0.66},{"half":2,"pos":3106,"score":0.52},{"half":2,"pos":3112,"score":0.6},{"half":2,"pos":3118,"score":0.68},{"half":2,"pos":3124,"score":0.55},{"half":2,"pos":3130,"score":0.62},{"half":2,"pos":3136,"score":0.58},{"half":2,"pos":3142,"score":0.5},{"half":2,"pos":3148,"score":0.42},{"half":2,"pos":3154,"score":0.3},{"half":2,"pos":3160,"score":0.15},{"half":2,"pos":3165,"score":0.2},{"half":2,"pos":3170,"score":0.1},{"half":2,"pos":3176,"score":0.04},{"half":2,"pos":3190,"score":0.02},{"half":2,"pos":3230,"score":0.02},{"half":2,"pos":3270,"score":0.03},{"half":2,"pos":3285,"score":0.06},{"half":2,"pos":3295,"score":0.08},{"half":2,"pos":3310,"score":0.06},{"half":2,"pos":3330,"score":0.04},{"half":2,"pos":3350,"score":0.05},{"half":2,"pos":3370,"score":0.06},{"half":2,"pos":3390,"score":0.1},{"half":2,"pos":3400,"score":0.25},{"half":2,"pos":3404,"score":0.36},{"half":2,"pos":3410,"score":0.18},{"half":2,"pos":3420,"score":0.12},{"half":2,"pos":3430,"score":0.08},{"half":2,"pos":3440,"score":0.14},{"half":2,"pos":3450,"score":0.1},{"half":2,"pos":3460,"score":0.16},{"half":2,"pos":3470,"score":0.08},{"half":2,"pos":3480,"score":0.12},{"half":2,"pos":3490,"score":0.06},{"half":2,"pos":3500,"score":0.1},{"half":2,"pos":3510,"score":0.05},{"half":2,"pos":3520,"score":0.07},{"half":2,"pos":3535,"score":0.03},{"half":2,"pos":3550,"score":0.02},{"half":2,"pos":3570,"score":0.01}
  ],
  "donorCurve": [
    {"half":1,"seg":"a","pos":0,"score":1.03},{"half":1,"seg":"a","pos":40,"score":1.03},{"half":1,"seg":"a","pos":80,"score":1.03},{"half":1,"seg":"a","pos":100,"score":1.02},{"half":1,"seg":"a","pos":110,"score":1.0},{"half":1,"seg":"a","pos":125,"score":1.02},
    {"half":1,"seg":"b","pos":242,"score":1.05},{"half":1,"seg":"b","pos":265,"score":1.0},{"half":1,"seg":"b","pos":290,"score":0.9},{"half":1,"seg":"b","pos":317,"score":0.82},{"half":1,"seg":"b","pos":340,"score":0.88},{"half":1,"seg":"b","pos":360,"score":0.97},{"half":1,"seg":"b","pos":378,"score":1.04},{"half":1,"seg":"b","pos":420,"score":1.05},{"half":1,"seg":"b","pos":480,"score":1.04},
    {"half":1,"seg":"c","pos":490,"score":1.03},{"half":1,"seg":"c","pos":505,"score":0.95},{"half":1,"seg":"c","pos":520,"score":0.85},{"half":1,"seg":"c","pos":533,"score":0.74},{"half":1,"seg":"c","pos":545,"score":0.85},{"half":1,"seg":"c","pos":560,"score":0.98},{"half":1,"seg":"c","pos":580,"score":1.02},{"half":1,"seg":"c","pos":620,"score":1.03},{"half":1,"seg":"c","pos":680,"score":1.03},{"half":1,"seg":"c","pos":740,"score":1.03},{"half":1,"seg":"c","pos":770,"score":1.02},{"half":1,"seg":"c","pos":790,"score":0.97},{"half":1,"seg":"c","pos":805,"score":0.95},{"half":1,"seg":"c","pos":820,"score":0.98},{"half":1,"seg":"c","pos":835,"score":1.02},{"half":1,"seg":"c","pos":870,"score":1.03},{"half":1,"seg":"c","pos":900,"score":1.0},{"half":1,"seg":"c","pos":920,"score":0.9},{"half":1,"seg":"c","pos":938,"score":0.85},{"half":1,"seg":"c","pos":955,"score":0.9},{"half":1,"seg":"c","pos":970,"score":1.0},{"half":1,"seg":"c","pos":990,"score":1.03},{"half":1,"seg":"c","pos":1005,"score":1.0},{"half":1,"seg":"c","pos":1024,"score":0.93},{"half":1,"seg":"c","pos":1040,"score":0.97},{"half":1,"seg":"c","pos":1060,"score":1.0},{"half":1,"seg":"c","pos":1080,"score":1.03},{"half":1,"seg":"c","pos":1150,"score":1.03},{"half":1,"seg":"c","pos":1200,"score":1.03},{"half":1,"seg":"c","pos":1240,"score":1.02},{"half":1,"seg":"c","pos":1255,"score":0.98},{"half":1,"seg":"c","pos":1270,"score":0.93},{"half":1,"seg":"c","pos":1290,"score":0.96},{"half":1,"seg":"c","pos":1310,"score":0.99},{"half":1,"seg":"c","pos":1340,"score":1.01},{"half":1,"seg":"c","pos":1360,"score":1.02},{"half":1,"seg":"c","pos":1400,"score":1.03},{"half":1,"seg":"c","pos":1460,"score":1.03},{"half":1,"seg":"c","pos":1480,"score":1.0},{"half":1,"seg":"c","pos":1500,"score":0.92},{"half":1,"seg":"c","pos":1520,"score":0.86},{"half":1,"seg":"c","pos":1540,"score":0.9},{"half":1,"seg":"c","pos":1560,"score":1.0},{"half":1,"seg":"c","pos":1575,"score":1.03},{"half":1,"seg":"c","pos":1640,"score":1.03},{"half":1,"seg":"c","pos":1660,"score":1.0},{"half":1,"seg":"c","pos":1680,"score":0.9},{"half":1,"seg":"c","pos":1703,"score":0.82},{"half":1,"seg":"c","pos":1720,"score":0.84},{"half":1,"seg":"c","pos":1740,"score":0.9},{"half":1,"seg":"c","pos":1760,"score":1.0},{"half":1,"seg":"c","pos":1790,"score":1.03},{"half":1,"seg":"c","pos":1830,"score":1.03},
    {"half":2,"seg":"a","pos":2003,"score":1.02},{"half":2,"seg":"a","pos":2100,"score":1.02},{"half":2,"seg":"a","pos":2200,"score":1.02},{"half":2,"seg":"a","pos":2250,"score":1.02},{"half":2,"seg":"a","pos":2262,"score":0.97},{"half":2,"seg":"a","pos":2275,"score":0.85},{"half":2,"seg":"a","pos":2290,"score":0.86},{"half":2,"seg":"a","pos":2305,"score":0.95},{"half":2,"seg":"a","pos":2320,"score":1.02},{"half":2,"seg":"a","pos":2350,"score":1.03},{"half":2,"seg":"a","pos":2377,"score":1.03},
    {"half":2,"seg":"b","pos":2475,"score":1.04},{"half":2,"seg":"b","pos":2530,"score":1.03},{"half":2,"seg":"b","pos":2570,"score":0.97},{"half":2,"seg":"b","pos":2600,"score":0.86},{"half":2,"seg":"b","pos":2628,"score":0.76},{"half":2,"seg":"b","pos":2645,"score":0.85},{"half":2,"seg":"b","pos":2662,"score":1.0},{"half":2,"seg":"b","pos":2690,"score":1.0},{"half":2,"seg":"b","pos":2700,"score":0.96},{"half":2,"seg":"b","pos":2712,"score":0.94},{"half":2,"seg":"b","pos":2725,"score":0.98},{"half":2,"seg":"b","pos":2745,"score":1.02},{"half":2,"seg":"b","pos":2800,"score":1.03},{"half":2,"seg":"b","pos":2880,"score":1.03},{"half":2,"seg":"b","pos":2934,"score":1.03},
    {"half":2,"seg":"c","pos":3010,"score":1.03},{"half":2,"seg":"c","pos":3040,"score":0.98},{"half":2,"seg":"c","pos":3070,"score":0.93},{"half":2,"seg":"c","pos":3090,"score":0.92},{"half":2,"seg":"c","pos":3110,"score":0.94},{"half":2,"seg":"c","pos":3130,"score":0.9},{"half":2,"seg":"c","pos":3155,"score":0.86},{"half":2,"seg":"c","pos":3175,"score":0.93},{"half":2,"seg":"c","pos":3200,"score":0.99},{"half":2,"seg":"c","pos":3230,"score":1.02},{"half":2,"seg":"c","pos":3280,"score":1.03},{"half":2,"seg":"c","pos":3342,"score":1.03},
    {"half":2,"seg":"d","pos":3376,"score":1.03},{"half":2,"seg":"d","pos":3400,"score":1.02},{"half":2,"seg":"d","pos":3420,"score":0.99},{"half":2,"seg":"d","pos":3440,"score":0.98},{"half":2,"seg":"d","pos":3470,"score":0.99},{"half":2,"seg":"d","pos":3490,"score":1.01},{"half":2,"seg":"d","pos":3530,"score":1.02},{"half":2,"seg":"d","pos":3586,"score":1.02}
  ],
  "acceptorCurve": [
    {"half":1,"pos":0,"score":0.64},{"half":1,"pos":50,"score":0.64},{"half":1,"pos":100,"score":0.63},{"half":1,"pos":130,"score":0.57},{"half":1,"pos":150,"score":0.5},{"half":1,"pos":165,"score":0.45},{"half":1,"pos":180,"score":0.46},{"half":1,"pos":200,"score":0.5},{"half":1,"pos":230,"score":0.62},{"half":1,"pos":260,"score":0.75},{"half":1,"pos":290,"score":0.85},{"half":1,"pos":310,"score":0.86},{"half":1,"pos":340,"score":0.8},{"half":1,"pos":370,"score":0.68},{"half":1,"pos":400,"score":0.52},{"half":1,"pos":420,"score":0.4},{"half":1,"pos":435,"score":0.33},{"half":1,"pos":450,"score":0.38},{"half":1,"pos":470,"score":0.6},{"half":1,"pos":485,"score":0.82},{"half":1,"pos":500,"score":0.97},{"half":1,"pos":515,"score":0.92},{"half":1,"pos":540,"score":0.78},{"half":1,"pos":565,"score":0.66},{"half":1,"pos":600,"score":0.65},{"half":1,"pos":650,"score":0.65},{"half":1,"pos":700,"score":0.65},{"half":1,"pos":740,"score":0.64},{"half":1,"pos":760,"score":0.6},{"half":1,"pos":780,"score":0.58},{"half":1,"pos":800,"score":0.62},{"half":1,"pos":816,"score":0.65},{"half":1,"pos":840,"score":0.58},{"half":1,"pos":860,"score":0.47},{"half":1,"pos":872,"score":0.44},{"half":1,"pos":890,"score":0.55},{"half":1,"pos":910,"score":0.72},{"half":1,"pos":925,"score":0.78},{"half":1,"pos":945,"score":0.72},{"half":1,"pos":965,"score":0.6},{"half":1,"pos":980,"score":0.55},{"half":1,"pos":995,"score":0.62},{"half":1,"pos":1015,"score":0.75},{"half":1,"pos":1027,"score":0.78},{"half":1,"pos":1045,"score":0.72},{"half":1,"pos":1060,"score":0.65},{"half":1,"pos":1075,"score":0.6},{"half":1,"pos":1100,"score":0.62},{"half":1,"pos":1150,"score":0.62},{"half":1,"pos":1200,"score":0.62},{"half":1,"pos":1230,"score":0.62},{"half":1,"pos":1250,"score":0.66},{"half":1,"pos":1270,"score":0.64},{"half":1,"pos":1300,"score":0.62},{"half":1,"pos":1350,"score":0.62},{"half":1,"pos":1400,"score":0.62},{"half":1,"pos":1420,"score":0.58},{"half":1,"pos":1444,"score":0.5},{"half":1,"pos":1465,"score":0.6},{"half":1,"pos":1485,"score":0.74},{"half":1,"pos":1499,"score":0.8},{"half":1,"pos":1520,"score":0.74},{"half":1,"pos":1545,"score":0.62},{"half":1,"pos":1575,"score":0.48},{"half":1,"pos":1600,"score":0.4},{"half":1,"pos":1615,"score":0.38},{"half":1,"pos":1630,"score":0.55},{"half":1,"pos":1649,"score":0.82},{"half":1,"pos":1670,"score":0.85},{"half":1,"pos":1700,"score":0.78},{"half":1,"pos":1740,"score":0.7},{"half":1,"pos":1780,"score":0.62},{"half":1,"pos":1820,"score":0.55},
    {"half":2,"pos":2000,"score":0.63},{"half":2,"pos":2100,"score":0.63},{"half":2,"pos":2180,"score":0.63},{"half":2,"pos":2210,"score":0.55},{"half":2,"pos":2230,"score":0.46},{"half":2,"pos":2241,"score":0.42},{"half":2,"pos":2255,"score":0.55},{"half":2,"pos":2270,"score":0.75},{"half":2,"pos":2288,"score":0.82},{"half":2,"pos":2305,"score":0.78},{"half":2,"pos":2325,"score":0.67},{"half":2,"pos":2345,"score":0.62},{"half":2,"pos":2365,"score":0.6},{"half":2,"pos":2385,"score":0.5},{"half":2,"pos":2405,"score":0.38},{"half":2,"pos":2424,"score":0.3},{"half":2,"pos":2445,"score":0.42},{"half":2,"pos":2465,"score":0.55},{"half":2,"pos":2485,"score":0.6},{"half":2,"pos":2520,"score":0.62},{"half":2,"pos":2560,"score":0.64},{"half":2,"pos":2590,"score":0.72},{"half":2,"pos":2605,"score":0.86},{"half":2,"pos":2618,"score":0.93},{"half":2,"pos":2632,"score":0.85},{"half":2,"pos":2649,"score":0.6},{"half":2,"pos":2665,"score":0.62},{"half":2,"pos":2690,"score":0.68},{"half":2,"pos":2717,"score":0.72},{"half":2,"pos":2740,"score":0.68},{"half":2,"pos":2760,"score":0.64},{"half":2,"pos":2800,"score":0.63},{"half":2,"pos":2860,"score":0.63},{"half":2,"pos":2920,"score":0.63},{"half":2,"pos":2940,"score":0.5},{"half":2,"pos":2960,"score":0.36},{"half":2,"pos":2975,"score":0.3},{"half":2,"pos":2995,"score":0.35},{"half":2,"pos":3020,"score":0.48},{"half":2,"pos":3050,"score":0.6},{"half":2,"pos":3080,"score":0.72},{"half":2,"pos":3110,"score":0.76},{"half":2,"pos":3140,"score":0.75},{"half":2,"pos":3160,"score":0.8},{"half":2,"pos":3172,"score":0.82},{"half":2,"pos":3190,"score":0.75},{"half":2,"pos":3206,"score":0.68},{"half":2,"pos":3240,"score":0.65},{"half":2,"pos":3290,"score":0.62},{"half":2,"pos":3340,"score":0.62},{"half":2,"pos":3370,"score":0.58},{"half":2,"pos":3396,"score":0.55},{"half":2,"pos":3410,"score":0.58},{"half":2,"pos":3425,"score":0.63},{"half":2,"pos":3470,"score":0.64},{"half":2,"pos":3520,"score":0.63},{"half":2,"pos":3593,"score":0.63}
  ],
  "donorSites": [
    {"half":1,"type":"site","pos":16,"score":0.18},{"half":1,"type":"site","pos":26,"score":0.46},{"half":1,"type":"site","pos":41,"score":0.7},{"half":1,"type":"site","pos":78,"score":0.17},{"half":1,"type":"site","pos":255,"score":0.77},{"half":1,"type":"site","pos":297,"score":0.65},{"half":1,"type":"site","pos":335,"score":0.7},{"half":1,"type":"site","pos":354,"score":0.17},{"half":1,"type":"site","pos":492,"score":0.8},{"half":1,"type":"site","pos":513,"score":0.85},{"half":1,"type":"site","pos":533,"score":0.7},{"half":1,"type":"site","pos":638,"score":0.47},{"half":1,"type":"site","pos":754,"score":0.1},{"half":1,"type":"site","pos":816,"score":0.63},{"half":1,"type":"site","pos":1024,"score":0.95},{"half":1,"type":"site","pos":1171,"score":0.52},{"half":1,"type":"site","pos":1270,"score":0.98},{"half":1,"type":"site","pos":1294,"score":0.55},{"half":1,"type":"site","pos":1328,"score":0.68},{"half":1,"type":"site","pos":1359,"score":1.0},{"half":1,"type":"site","pos":1410,"score":0.52},{"half":1,"type":"site","pos":1515,"score":0.62},{"half":1,"type":"site","pos":1534,"score":0.55},{"half":1,"type":"site","pos":1663,"score":0.18},{"half":1,"type":"site","pos":1740,"score":0.98},
    {"half":1,"type":"candidate","pos":563,"score":0.2},{"half":1,"type":"candidate","pos":568,"score":0.3},{"half":1,"type":"candidate","pos":572,"score":0.25},{"half":1,"type":"candidate","pos":577,"score":0.7},{"half":1,"type":"candidate","pos":582,"score":0.45},{"half":1,"type":"candidate","pos":586,"score":0.2},{"half":1,"type":"candidate","pos":1083,"score":1.05},{"half":1,"type":"candidate","pos":1090,"score":1.02},{"half":1,"type":"candidate","pos":1265,"score":0.5},{"half":1,"type":"candidate","pos":1772,"score":0.33},
    {"half":1,"type":"candidate","pos":60,"score":0.02},{"half":1,"type":"candidate","pos":100,"score":0.02},{"half":1,"type":"candidate","pos":130,"score":0.02},{"half":1,"type":"candidate","pos":160,"score":0.02},{"half":1,"type":"candidate","pos":190,"score":0.02},{"half":1,"type":"candidate","pos":215,"score":0.02},{"half":1,"type":"candidate","pos":450,"score":0.02},{"half":1,"type":"candidate","pos":470,"score":0.02},{"half":1,"type":"candidate","pos":700,"score":0.02},{"half":1,"type":"candidate","pos":790,"score":0.03},{"half":1,"type":"candidate","pos":850,"score":0.02},{"half":1,"type":"candidate","pos":920,"score":0.02},{"half":1,"type":"candidate","pos":960,"score":0.03},{"half":1,"type":"candidate","pos":1200,"score":0.02},{"half":1,"type":"candidate","pos":1450,"score":0.03},{"half":1,"type":"candidate","pos":1470,"score":0.03},{"half":1,"type":"candidate","pos":1560,"score":0.04},{"half":1,"type":"candidate","pos":1600,"score":0.03},{"half":1,"type":"candidate","pos":1700,"score":0.02},{"half":1,"type":"candidate","pos":1790,"score":0.03},
    {"half":2,"type":"site","pos":2015,"score":0.6},{"half":2,"type":"site","pos":2037,"score":0.95},{"half":2,"type":"site","pos":2274,"score":1.0},{"half":2,"type":"site","pos":2292,"score":0.55},{"half":2,"type":"site","pos":2472,"score":0.27},{"half":2,"type":"site","pos":2580,"score":0.15},{"half":2,"type":"site","pos":2655,"score":0.4},{"half":2,"type":"site","pos":2676,"score":0.8},{"half":2,"type":"site","pos":2715,"score":0.95},{"half":2,"type":"site","pos":2746,"score":0.32},{"half":2,"type":"site","pos":2798,"score":0.48},{"half":2,"type":"site","pos":3029,"score":0.1},{"half":2,"type":"site","pos":3056,"score":0.65},{"half":2,"type":"site","pos":3083,"score":0.8},{"half":2,"type":"site","pos":3170,"score":0.85},{"half":2,"type":"site","pos":3283,"score":0.87},{"half":2,"type":"site","pos":3410,"score":0.5},{"half":2,"type":"site","pos":3437,"score":0.8},{"half":2,"type":"site","pos":3460,"score":0.37},{"half":2,"type":"site","pos":3523,"score":0.97},
    {"half":2,"type":"candidate","pos":2084,"score":0.05},{"half":2,"type":"candidate","pos":2166,"score":0.45},{"half":2,"type":"candidate","pos":2203,"score":0.55},{"half":2,"type":"candidate","pos":2210,"score":0.3},{"half":2,"type":"candidate","pos":2230,"score":0.4},{"half":2,"type":"candidate","pos":2343,"score":0.25},{"half":2,"type":"candidate","pos":2367,"score":0.25},{"half":2,"type":"candidate","pos":2723,"score":0.25},{"half":2,"type":"candidate","pos":2730,"score":0.2},{"half":2,"type":"candidate","pos":3172,"score":0.45},{"half":2,"type":"candidate","pos":3464,"score":0.2},{"half":2,"type":"candidate","pos":3470,"score":0.1},
    {"half":2,"type":"candidate","pos":2130,"score":0.02},{"half":2,"type":"candidate","pos":2400,"score":0.02},{"half":2,"type":"candidate","pos":2430,"score":0.02},{"half":2,"type":"candidate","pos":2550,"score":0.03},{"half":2,"type":"candidate","pos":2600,"score":0.03},{"half":2,"type":"candidate","pos":2820,"score":0.03},{"half":2,"type":"candidate","pos":2930,"score":0.02},{"half":2,"type":"candidate","pos":2960,"score":0.02},{"half":2,"type":"candidate","pos":3000,"score":0.02},{"half":2,"type":"candidate","pos":3100,"score":0.03},{"half":2,"type":"candidate","pos":3200,"score":0.02},{"half":2,"type":"candidate","pos":3330,"score":0.02},{"half":2,"type":"candidate","pos":3400,"score":0.04},{"half":2,"type":"candidate","pos":3500,"score":0.03},{"half":2,"type":"candidate","pos":3550,"score":0.02},{"half":2,"type":"candidate","pos":3580,"score":0.02}
  ],
  "acceptorSites": [
    {"half":1,"type":"site","pos":171,"score":0.93},
    {"half":1,"type":"candidate","pos":60,"score":0.32},{"half":1,"type":"alt","pos":101,"score":0.38},{"half":1,"type":"candidate","pos":190,"score":0.1},{"half":1,"type":"candidate","pos":221,"score":0.35},{"half":1,"type":"candidate","pos":372,"score":0.35},{"half":1,"type":"candidate","pos":417,"score":0.1},{"half":1,"type":"candidate","pos":583,"score":0.25},{"half":1,"type":"candidate","pos":768,"score":0.3},{"half":1,"type":"candidate","pos":775,"score":0.38},{"half":1,"type":"candidate","pos":788,"score":0.45},{"half":1,"type":"alt","pos":870,"score":0.27},{"half":1,"type":"candidate","pos":1000,"score":0.35},{"half":1,"type":"candidate","pos":1079,"score":0.65},{"half":1,"type":"candidate","pos":1085,"score":0.55},{"half":1,"type":"candidate","pos":1092,"score":0.6},{"half":1,"type":"candidate","pos":1097,"score":0.4},{"half":1,"type":"candidate","pos":1102,"score":0.3},{"half":1,"type":"candidate","pos":1164,"score":0.15},{"half":1,"type":"candidate","pos":1175,"score":0.2},{"half":1,"type":"candidate","pos":1184,"score":0.12},{"half":1,"type":"candidate","pos":1225,"score":0.15},{"half":1,"type":"candidate","pos":1253,"score":0.45},{"half":1,"type":"candidate","pos":1321,"score":0.2},{"half":1,"type":"candidate","pos":1355,"score":0.7},{"half":1,"type":"candidate","pos":1403,"score":0.3},{"half":1,"type":"candidate","pos":1458,"score":0.15},{"half":1,"type":"candidate","pos":1485,"score":0.4},{"half":1,"type":"alt","pos":1574,"score":1.05},{"half":1,"type":"candidate","pos":1601,"score":0.2},{"half":1,"type":"candidate","pos":1635,"score":0.1},{"half":1,"type":"alt","pos":1646,"score":1.07},{"half":1,"type":"candidate","pos":1716,"score":0.35},
    {"half":1,"type":"candidate","pos":240,"score":0.02},{"half":1,"type":"candidate","pos":300,"score":0.02},{"half":1,"type":"candidate","pos":460,"score":0.02},{"half":1,"type":"candidate","pos":730,"score":0.03},{"half":1,"type":"candidate","pos":745,"score":0.03},{"half":1,"type":"candidate","pos":900,"score":0.02},{"half":1,"type":"candidate","pos":920,"score":0.02},{"half":1,"type":"candidate","pos":1140,"score":0.02},{"half":1,"type":"candidate","pos":1300,"score":0.02},{"half":1,"type":"candidate","pos":1450,"score":0.03},{"half":1,"type":"candidate","pos":1660,"score":0.02},{"half":1,"type":"candidate","pos":1750,"score":0.03},
    {"half":2,"type":"site","pos":2252,"score":1.0},
    {"half":2,"type":"candidate","pos":2067,"score":0.17},{"half":2,"type":"alt","pos":2118,"score":0.55},{"half":2,"type":"candidate","pos":2148,"score":0.25},{"half":2,"type":"candidate","pos":2162,"score":0.25},{"half":2,"type":"candidate","pos":2186,"score":0.1},{"half":2,"type":"candidate","pos":2383,"score":0.5},{"half":2,"type":"candidate","pos":2397,"score":0.3},{"half":2,"type":"candidate","pos":2411,"score":0.18},{"half":2,"type":"candidate","pos":2424,"score":0.25},{"half":2,"type":"candidate","pos":2485,"score":0.3},{"half":2,"type":"candidate","pos":2553,"score":0.12},{"half":2,"type":"candidate","pos":2644,"score":0.63},{"half":2,"type":"candidate","pos":2650,"score":0.4},{"half":2,"type":"candidate","pos":2689,"score":0.3},{"half":2,"type":"candidate","pos":2832,"score":0.35},{"half":2,"type":"candidate","pos":2920,"score":0.52},{"half":2,"type":"candidate","pos":2929,"score":0.4},{"half":2,"type":"alt","pos":3050,"score":0.45},{"half":2,"type":"candidate","pos":3055,"score":0.3},{"half":2,"type":"candidate","pos":3100,"score":0.15},{"half":2,"type":"candidate","pos":3149,"score":0.63},{"half":2,"type":"candidate","pos":3202,"score":0.25},{"half":2,"type":"candidate","pos":3208,"score":0.15},{"half":2,"type":"candidate","pos":3451,"score":0.35},{"half":2,"type":"candidate","pos":3491,"score":0.15},
    {"half":2,"type":"candidate","pos":2030,"score":0.02},{"half":2,"type":"candidate","pos":2300,"score":0.03},{"half":2,"type":"candidate","pos":2460,"score":0.02},{"half":2,"type":"candidate","pos":2600,"score":0.03},{"half":2,"type":"candidate","pos":2770,"score":0.03},{"half":2,"type":"candidate","pos":2950,"score":0.03},{"half":2,"type":"candidate","pos":3000,"score":0.03},{"half":2,"type":"candidate","pos":3120,"score":0.02},{"half":2,"type":"candidate","pos":3280,"score":0.03},{"half":2,"type":"candidate","pos":3430,"score":0.02},{"half":2,"type":"candidate","pos":3480,"score":0.02}
  ]
},
"vconcat": [
  {
    "width": 683, "height": 597,
    "layer": [
      {"data": {"name": "report"}, "mark": {"type": "text", "align": "center", "baseline": "middle", "font": "Liberation Mono", "fontSize": 18, "fontWeight": "bold", "color": "#333"},
       "encoding": {"x": {"field": "c", "type": "quantitative", "scale": {"domain": [15.252, 63.93], "nice": false, "zero": false}, "axis": null}, "y": {"field": "l", "type": "quantitative", "scale": {"domain": [-2.337, 30.11], "reverse": true, "nice": false, "zero": false}, "axis": null}, "text": {"field": "t"}}},
      {"data": {"name": "seqs"}, "mark": {"type": "text", "align": "center", "baseline": "middle", "font": "Liberation Serif", "fontSize": 16.5, "fontWeight": "bold", "color": "#333"},
       "encoding": {"x": {"field": "c", "type": "quantitative", "scale": {"domain": [15.252, 63.93], "nice": false, "zero": false}, "axis": null}, "y": {"field": "l", "type": "quantitative", "scale": {"domain": [-2.337, 30.11], "reverse": true, "nice": false, "zero": false}, "axis": null}, "text": {"field": "t"}}},
      {"data": {"values": [{"l": 29.5, "c": 8.77, "t": "Direct strand ( + strand)"}]}, "mark": {"type": "text", "align": "left", "baseline": "middle", "dx": -7, "font": "Liberation Serif", "fontSize": 12.5, "fontWeight": "bold", "color": "#222"},
       "encoding": {"x": {"field": "c", "type": "quantitative", "scale": {"domain": [15.252, 63.93], "nice": false, "zero": false}, "axis": null}, "y": {"field": "l", "type": "quantitative", "scale": {"domain": [-2.337, 30.11], "reverse": true, "nice": false, "zero": false}, "axis": null}, "text": {"field": "t"}}},
      {"data": {"values": [{}]}, "mark": {"type": "rule", "color": "#777", "strokeWidth": 1.6},
       "encoding": {"x": {"datum": -4.85, "type": "quantitative", "scale": {"domain": [15.252, 63.93], "nice": false, "zero": false}, "axis": null}, "x2": {"datum": 80.6}, "y": {"datum": -1.685, "type": "quantitative", "scale": {"domain": [-2.337, 30.11], "reverse": true, "nice": false, "zero": false}, "axis": null}}},
      {"data": {"values": [{}]}, "mark": {"type": "rule", "color": "#999", "strokeWidth": 1.2},
       "encoding": {"x": {"datum": -4.85, "type": "quantitative", "scale": {"domain": [15.252, 63.93], "nice": false, "zero": false}, "axis": null}, "y": {"datum": -1.685, "type": "quantitative", "scale": {"domain": [-2.337, 30.11], "reverse": true, "nice": false, "zero": false}, "axis": null}, "y2": {"datum": 61.7}}},
      {"data": {"values": [{}]}, "mark": {"type": "rule", "color": "#999", "strokeWidth": 1.2},
       "encoding": {"x": {"datum": 80.6, "type": "quantitative", "scale": {"domain": [15.252, 63.93], "nice": false, "zero": false}, "axis": null}, "y": {"datum": -1.685, "type": "quantitative", "scale": {"domain": [-2.337, 30.11], "reverse": true, "nice": false, "zero": false}, "axis": null}, "y2": {"datum": 61.7}}}
    ]
  },
  {
    "width": 683, "height": 59,
    "layer": [
      {"data": {"name": "coding"}, "transform": [{"filter": "datum.half == 1"}], "mark": {"type": "line", "color": "#c8486a", "strokeWidth": 1},
       "encoding": {"x": {"field": "pos", "type": "quantitative", "scale": {"domain": [-55, 1830], "nice": false, "zero": false}, "axis": {"labels": false, "title": null}}, "y": {"field": "score", "type": "quantitative", "scale": {"domain": [-0.08, 1.08], "nice": false, "zero": false}, "axis": {"title": "Coding"}}}},
      {"data": {"name": "coding"}, "transform": [{"filter": "datum.half == 1"}], "mark": {"type": "point", "filled": true, "size": 6, "color": "#a8203f", "opacity": 0.9},
       "encoding": {"x": {"field": "pos", "type": "quantitative", "scale": {"domain": [-55, 1830], "nice": false, "zero": false}, "axis": {"labels": false, "title": null}}, "y": {"field": "score", "type": "quantitative", "scale": {"domain": [-0.08, 1.08], "nice": false, "zero": false}, "axis": {"title": "Coding"}}}},
      {"data": {"values": [{}]}, "mark": {"type": "rule", "color": "#555", "strokeWidth": 2},
       "encoding": {"x": {"datum": -55, "type": "quantitative", "scale": {"domain": [-55, 1830], "nice": false, "zero": false}, "axis": {"labels": false, "title": null}}, "x2": {"datum": 1830}, "y": {"datum": 1.08, "type": "quantitative", "scale": {"domain": [-0.08, 1.08], "nice": false, "zero": false}, "axis": {"title": "Coding"}}}}
    ]
  },
  {
    "width": 683, "height": 59,
    "layer": [
      {"data": {"name": "donorSites"}, "transform": [{"filter": "datum.half == 1"}], "mark": {"type": "rule"},
       "encoding": {"x": {"field": "pos", "type": "quantitative", "scale": {"domain": [-55, 1830], "nice": false, "zero": false}, "axis": {"labels": false, "title": null}}, "y": {"field": "score", "type": "quantitative", "scale": {"domain": [-0.08, 1.08], "nice": false, "zero": false}, "axis": {"title": "Donor"}}, "y2": {"datum": 0}, "color": {"field": "type", "type": "nominal", "scale": {"domain": ["site", "candidate", "alt"], "range": ["#9c1b33", "#6e9ee6", "#2e7b72"]}, "legend": null}, "strokeWidth": {"field": "type", "type": "nominal", "scale": {"domain": ["site", "candidate", "alt"], "range": [2.2, 1.2, 1.2]}, "legend": null}}},
      {"data": {"name": "donorCurve"}, "transform": [{"filter": "datum.half == 1"}], "mark": {"type": "line", "color": "#e0607a", "strokeWidth": 1.1},
       "encoding": {"x": {"field": "pos", "type": "quantitative", "scale": {"domain": [-55, 1830], "nice": false, "zero": false}, "axis": {"labels": false, "title": null}}, "y": {"field": "score", "type": "quantitative", "scale": {"domain": [-0.08, 1.08], "nice": false, "zero": false}, "axis": {"title": "Donor"}}, "detail": {"field": "seg"}}},
      {"data": {"values": [{}]}, "mark": {"type": "rule", "color": "#555", "strokeWidth": 2},
       "encoding": {"x": {"datum": -55, "type": "quantitative", "scale": {"domain": [-55, 1830], "nice": false, "zero": false}, "axis": {"labels": false, "title": null}}, "x2": {"datum": 1830}, "y": {"datum": 1.08, "type": "quantitative", "scale": {"domain": [-0.08, 1.08], "nice": false, "zero": false}, "axis": {"title": "Donor"}}}}
    ]
  },
  {
    "width": 683, "height": 59,
    "layer": [
      {"data": {"name": "acceptorSites"}, "transform": [{"filter": "datum.half == 1"}], "mark": {"type": "rule"},
       "encoding": {"x": {"field": "pos", "type": "quantitative", "scale": {"domain": [-55, 1830], "nice": false, "zero": false}, "axis": {"values": [0, 500, 1000, 1500], "format": "d", "title": "5'", "titleX": -20, "titleY": 4, "titleAlign": "center", "titleBaseline": "top", "titleFontWeight": "bold"}}, "y": {"field": "score", "type": "quantitative", "scale": {"domain": [-0.08, 1.08], "nice": false, "zero": false}, "axis": {"title": "Acceptor"}}, "y2": {"datum": 0}, "color": {"field": "type", "type": "nominal", "scale": {"domain": ["site", "candidate", "alt"], "range": ["#9c1b33", "#6e9ee6", "#2e7b72"]}, "legend": null}, "strokeWidth": {"field": "type", "type": "nominal", "scale": {"domain": ["site", "candidate", "alt"], "range": [2.2, 1.2, 1.2]}, "legend": null}}},
      {"data": {"name": "acceptorCurve"}, "transform": [{"filter": "datum.half == 1"}], "mark": {"type": "line", "color": "#3f9677", "strokeWidth": 1.1},
       "encoding": {"x": {"field": "pos", "type": "quantitative", "scale": {"domain": [-55, 1830], "nice": false, "zero": false}, "axis": {"values": [0, 500, 1000, 1500], "format": "d", "title": "5'", "titleX": -20, "titleY": 4, "titleAlign": "center", "titleBaseline": "top", "titleFontWeight": "bold"}}, "y": {"field": "score", "type": "quantitative", "scale": {"domain": [-0.08, 1.08], "nice": false, "zero": false}, "axis": {"title": "Acceptor"}}}},
      {"data": {"values": [{}]}, "mark": {"type": "rule", "color": "#444", "strokeWidth": 1, "strokeDash": [2, 2]},
       "encoding": {"x": {"datum": 1815, "type": "quantitative", "scale": {"domain": [-55, 1830], "nice": false, "zero": false}, "axis": {"values": [0, 500, 1000, 1500], "format": "d", "title": "5'", "titleX": -20, "titleY": 4, "titleAlign": "center", "titleBaseline": "top", "titleFontWeight": "bold"}}, "y": {"datum": -0.08, "type": "quantitative", "scale": {"domain": [-0.08, 1.08], "nice": false, "zero": false}, "axis": {"title": "Acceptor"}}, "y2": {"datum": 1.08}}},
      {"data": {"values": [{}]}, "mark": {"type": "rule", "color": "#555", "strokeWidth": 2},
       "encoding": {"x": {"datum": -55, "type": "quantitative", "scale": {"domain": [-55, 1830], "nice": false, "zero": false}, "axis": {"values": [0, 500, 1000, 1500], "format": "d", "title": "5'", "titleX": -20, "titleY": 4, "titleAlign": "center", "titleBaseline": "top", "titleFontWeight": "bold"}}, "x2": {"datum": 1830}, "y": {"datum": 1.08, "type": "quantitative", "scale": {"domain": [-0.08, 1.08], "nice": false, "zero": false}, "axis": {"title": "Acceptor"}}}}
    ]
  },
  {
    "width": 683, "height": 59,
    "layer": [
      {"data": {"name": "coding"}, "transform": [{"filter": "datum.half == 2"}], "mark": {"type": "line", "color": "#c8486a", "strokeWidth": 1},
       "encoding": {"x": {"field": "pos", "type": "quantitative", "scale": {"domain": [1956, 3842], "nice": false, "zero": false}, "axis": {"labels": false, "title": null}}, "y": {"field": "score", "type": "quantitative", "scale": {"domain": [-0.08, 1.08], "nice": false, "zero": false}, "axis": {"title": "Coding"}}}},
      {"data": {"name": "coding"}, "transform": [{"filter": "datum.half == 2"}], "mark": {"type": "point", "filled": true, "size": 6, "color": "#a8203f", "opacity": 0.9},
       "encoding": {"x": {"field": "pos", "type": "quantitative", "scale": {"domain": [1956, 3842], "nice": false, "zero": false}, "axis": {"labels": false, "title": null}}, "y": {"field": "score", "type": "quantitative", "scale": {"domain": [-0.08, 1.08], "nice": false, "zero": false}, "axis": {"title": "Coding"}}}},
      {"data": {"values": [{}]}, "mark": {"type": "rule", "color": "#555", "strokeWidth": 2},
       "encoding": {"x": {"datum": 1956, "type": "quantitative", "scale": {"domain": [1956, 3842], "nice": false, "zero": false}, "axis": {"labels": false, "title": null}}, "x2": {"datum": 3842}, "y": {"datum": 1.08, "type": "quantitative", "scale": {"domain": [-0.08, 1.08], "nice": false, "zero": false}, "axis": {"title": "Coding"}}}}
    ]
  },
  {
    "width": 683, "height": 59,
    "layer": [
      {"data": {"name": "donorSites"}, "transform": [{"filter": "datum.half == 2"}], "mark": {"type": "rule"},
       "encoding": {"x": {"field": "pos", "type": "quantitative", "scale": {"domain": [1956, 3842], "nice": false, "zero": false}, "axis": {"labels": false, "title": null}}, "y": {"field": "score", "type": "quantitative", "scale": {"domain": [-0.08, 1.08], "nice": false, "zero": false}, "axis": {"title": "Donor"}}, "y2": {"datum": 0}, "color": {"field": "type", "type": "nominal", "scale": {"domain": ["site", "candidate", "alt"], "range": ["#9c1b33", "#6e9ee6", "#2e7b72"]}, "legend": null}, "strokeWidth": {"field": "type", "type": "nominal", "scale": {"domain": ["site", "candidate", "alt"], "range": [2.2, 1.2, 1.2]}, "legend": null}}},
      {"data": {"name": "donorCurve"}, "transform": [{"filter": "datum.half == 2"}], "mark": {"type": "line", "color": "#e0607a", "strokeWidth": 1.1},
       "encoding": {"x": {"field": "pos", "type": "quantitative", "scale": {"domain": [1956, 3842], "nice": false, "zero": false}, "axis": {"labels": false, "title": null}}, "y": {"field": "score", "type": "quantitative", "scale": {"domain": [-0.08, 1.08], "nice": false, "zero": false}, "axis": {"title": "Donor"}}, "detail": {"field": "seg"}}},
      {"data": {"values": [{}]}, "mark": {"type": "rule", "color": "#555", "strokeWidth": 2},
       "encoding": {"x": {"datum": 1956, "type": "quantitative", "scale": {"domain": [1956, 3842], "nice": false, "zero": false}, "axis": {"labels": false, "title": null}}, "x2": {"datum": 3842}, "y": {"datum": 1.08, "type": "quantitative", "scale": {"domain": [-0.08, 1.08], "nice": false, "zero": false}, "axis": {"title": "Donor"}}}}
    ]
  },
  {
    "width": 683, "height": 59,
    "layer": [
      {"data": {"name": "acceptorSites"}, "transform": [{"filter": "datum.half == 2"}], "mark": {"type": "rule"},
       "encoding": {"x": {"field": "pos", "type": "quantitative", "scale": {"domain": [1956, 3842], "nice": false, "zero": false}, "axis": {"values": [2000, 2500, 3000, 3500], "format": "d", "title": null}}, "y": {"field": "score", "type": "quantitative", "scale": {"domain": [-0.08, 1.08], "nice": false, "zero": false}, "axis": {"title": "Acceptor"}}, "y2": {"datum": 0}, "color": {"field": "type", "type": "nominal", "scale": {"domain": ["site", "candidate", "alt"], "range": ["#9c1b33", "#6e9ee6", "#2e7b72"]}, "legend": null}, "strokeWidth": {"field": "type", "type": "nominal", "scale": {"domain": ["site", "candidate", "alt"], "range": [2.2, 1.2, 1.2]}, "legend": null}}},
      {"data": {"name": "acceptorCurve"}, "transform": [{"filter": "datum.half == 2"}], "mark": {"type": "line", "color": "#3f9677", "strokeWidth": 1.1},
       "encoding": {"x": {"field": "pos", "type": "quantitative", "scale": {"domain": [1956, 3842], "nice": false, "zero": false}, "axis": {"values": [2000, 2500, 3000, 3500], "format": "d", "title": null}}, "y": {"field": "score", "type": "quantitative", "scale": {"domain": [-0.08, 1.08], "nice": false, "zero": false}, "axis": {"title": "Acceptor"}}}},
      {"data": {"values": [{}]}, "mark": {"type": "rule", "color": "#555", "strokeWidth": 2},
       "encoding": {"x": {"datum": 1956, "type": "quantitative", "scale": {"domain": [1956, 3842], "nice": false, "zero": false}, "axis": {"values": [2000, 2500, 3000, 3500], "format": "d", "title": null}}, "x2": {"datum": 3842}, "y": {"datum": 1.08, "type": "quantitative", "scale": {"domain": [-0.08, 1.08], "nice": false, "zero": false}, "axis": {"title": "Acceptor"}}}}
    ]
  }
]
}
